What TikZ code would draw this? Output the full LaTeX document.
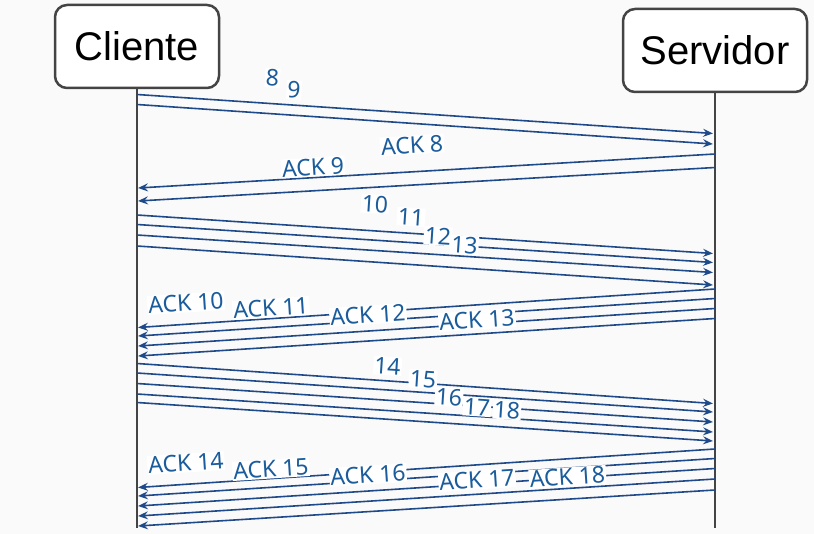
\documentclass[tikz,border=0pt]{standalone}
\usepackage{fontspec}
\setmainfont{Liberation Sans}
\newfontfamily\lblfont{Noto Sans}
\usetikzlibrary{arrows.meta}
\definecolor{bg}{HTML}{FAFAFA}
\definecolor{arr}{HTML}{1F4A8A}
\definecolor{lbl}{HTML}{1A5C9C}
\definecolor{frame}{HTML}{444444}
\begin{document}
\begin{tikzpicture}[x=1pt,y=-1pt,
 actor/.style={draw=frame, line width=2.5pt, rounded corners=12pt, fill=white, minimum width=#1, minimum height=83pt, font=\fontsize{40}{42}\selectfont, inner sep=0pt},
 life/.style={draw=frame, line width=2pt},
 msg/.style={draw=arr, line width=1.6pt, -{Stealth[length=10pt,width=8pt,inset=3.5pt]}},
 lab/.style={fill=white, text=lbl, inner sep=1pt, font=\lblfont\fontsize{23}{25}\selectfont},
 fw/.style={lab, rotate=-3.8},
 bw/.style={lab, rotate=3.8}]
\fill[bg] (0,0) rectangle (814,534);
\useasboundingbox (0,0) rectangle (814,534);

% actors
\node[actor=164pt] (cli) at (137,46.5) {Cliente};
\node[actor=184pt] (srv) at (715,50.5) {Servidor};
\coordinate (cend) at (137,528);
\coordinate (send) at (715,528);
\draw[life] (cli.south) -- (cend);
\draw[life] (srv.south) -- (send);

% segments 8, 9
\coordinate (c8) at (137,94.5);  \coordinate (s8) at (713,133.5);
\coordinate (c9) at (137,104.5); \coordinate (s9) at (713,144);
\draw[msg] (c8) -- (s8);
\draw[msg] (c9) -- (s9);
% ACK 8, 9
\coordinate (sa8) at (715,154);   \coordinate (ca8) at (138,188);
\coordinate (sa9) at (715,167.5); \coordinate (ca9) at (138,201);
\draw[msg] (sa8) -- (ca8);
\draw[msg] (sa9) -- (ca9);

% segments 10-13
\coordinate (c10) at (137,215);   \coordinate (s10) at (713,253.5);
\coordinate (c11) at (137,224.5); \coordinate (s11) at (713,262.5);
\coordinate (c12) at (137,235);   \coordinate (s12) at (713,272.5);
\coordinate (c13) at (137,246);   \coordinate (s13) at (713,285);
\foreach \i in {10,...,13} {\draw[msg] (c\i) -- (s\i);}
% ACK 10-13
\coordinate (sa10) at (715,289);   \coordinate (ca10) at (138,327.5);
\coordinate (sa11) at (715,298.5); \coordinate (ca11) at (138,336);
\coordinate (sa12) at (715,308.5); \coordinate (ca12) at (138,346);
\coordinate (sa13) at (715,318.5); \coordinate (ca13) at (138,356);
\foreach \i in {10,...,13} {\draw[msg] (sa\i) -- (ca\i);}

% segments 14-18
\coordinate (c14) at (137,363.5); \coordinate (s14) at (713,403.5);
\coordinate (c15) at (137,373);   \coordinate (s15) at (713,412);
\coordinate (c16) at (137,383.5); \coordinate (s16) at (713,422);
\coordinate (c17) at (137,394);   \coordinate (s17) at (713,432);
\coordinate (c18) at (137,402.5); \coordinate (s18) at (713,441);
\foreach \i in {14,...,18} {\draw[msg] (c\i) -- (s\i);}
% ACK 14-18
\coordinate (sa14) at (715,449);   \coordinate (ca14) at (138,487.5);
\coordinate (sa15) at (715,458.5); \coordinate (ca15) at (138,496);
\coordinate (sa16) at (715,468.5); \coordinate (ca16) at (138,506);
\coordinate (sa17) at (715,479);   \coordinate (ca17) at (138,516);
\coordinate (sa18) at (715,490);   \coordinate (ca18) at (138,526);
\foreach \i in {14,...,18} {\draw[msg] (sa\i) -- (ca\i);}

% labels
\node[fw] (l8) at (272.5,78) {8};
\node[fw] (l9) at (294,90) {9};
\node[bw] (la8) at (412,145) {ACK 8};
\node[bw] (la9) at (313,167) {ACK 9};

\node[fw] (l10) at (375,204) {10};
\node[fw] (l11) at (411,217) {11};
\node[fw] (l12) at (438,236) {12};
\node[fw] (l13) at (464.5,245) {13};
\node[bw] (la10) at (186,303) {ACK 10};
\node[bw] (la11) at (271,308) {ACK 11};
\node[bw] (la12) at (368,315) {ACK 12};
\node[bw] (la13) at (477,320) {ACK 13};

\node[fw] (l14) at (387.5,366) {14};
\node[fw] (l15) at (423,379) {15};
\node[fw] (l16) at (449,397) {16};
\node[fw] (l17) at (477,407) {17};
\node[fw] (l18) at (507,410) {18};
\node[bw] (la14) at (186,463) {ACK 14};
\node[bw] (la15) at (271,469) {ACK 15};
\node[bw] (la16) at (368,475) {ACK 16};
\node[bw] (la17) at (477,480) {ACK 17};
\node[bw] (la18) at (567.5,477) {ACK 18};
\end{tikzpicture}
\end{document}
